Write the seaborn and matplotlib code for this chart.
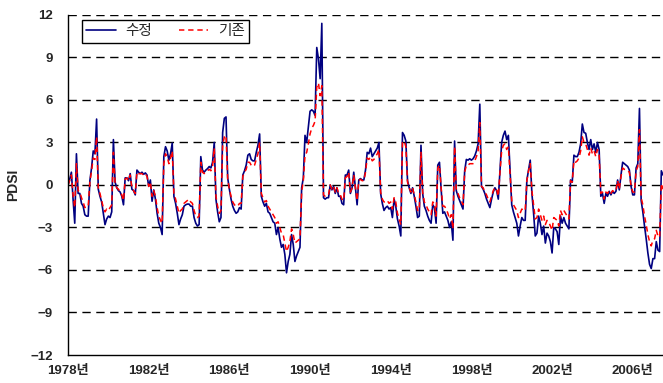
import matplotlib
matplotlib.use('Agg')
import matplotlib.pyplot as plt
import seaborn as sns
import pandas as pd

# monthly PDSI, Jan 1978 onwards
year_labels = ['1978년', '1982년', '1986년', '1990년', '1994년', '1998년', '2002년', '2006년']

revised = [
    0.0, 0.4, 0.9, -1.0, -2.7, 2.2, -0.6, -0.6, -1.3, -1.5, -2.1, -2.2,
    -2.2, 0.3, 1.2, 2.4, 2.2, 4.65, -0.3, -0.8, -1.2, -2.0, -2.8, -2.4,
    -2.2, -2.3, -1.9, 3.2, 0.2, -0.2, -0.4, -0.5, -0.8, -1.4, 0.5, 0.5,
    0.3, 0.8, -0.3, -0.4, -0.7, 1.05, 0.9, 0.8, 0.9, 0.75, 0.85, 0.7,
    -0.1, 0.35, -1.15, -0.35, -1.0, -2.0, -2.7, -3.0, -3.5, 2.0, 2.7, 2.4,
    1.75, 2.2, 2.95, -0.8, -1.3, -2.0, -2.8, -2.4, -2.1, -1.5, -1.4, -1.35,
    -1.35, -1.5, -1.5, -2.3, -2.7, -2.9, -2.8, 2.0, 1.05, 0.9, 1.05, 1.15,
    1.3, 1.2, 1.6, 3.0, -1.0, -1.9, -2.6, -2.3, 3.7, 4.7, 4.8, 0.5,
    -0.3, -1.0, -1.5, -1.8, -2.0, -1.9, -1.6, -1.7, 0.7, 1.0, 1.4, 2.1,
    2.2, 1.8, 1.7, 1.7, 2.3, 2.8, 3.6, -0.8, -1.2, -1.5, -1.3, -1.9,
    -2.0, -2.3, -2.6, -2.7, -3.5, -3.0, -3.8, -4.4, -4.2, -4.9, -6.2, -5.4,
    -4.9, -3.5, -4.2, -5.4, -5.0, -4.7, -4.4, -0.2, 0.5, 3.5, 3.0, 4.1,
    5.2, 5.3, 5.2, 4.9, 9.7, 8.9, 7.5, 11.4, -0.9, -1.0, -0.9, -0.9,
    0.0, -0.35, -0.1, -0.6, -0.2, -0.8, -0.8, -1.3, -1.4, 0.7, 0.7, 1.05,
    -0.6, -0.2, 0.9, -0.2, -1.4, 0.35, 0.45, 0.35, 0.35, 1.05, 2.3, 2.2,
    2.6, 2.0, 2.2, 2.4, 2.6, 3.0, -0.6, -1.3, -1.8, -1.6, -1.5, -1.7,
    -1.6, -2.3, -1.0, -1.5, -2.4, -2.9, -3.6, 3.7, 3.5, 3.1, 0.3, -0.2,
    -0.6, -0.2, -0.8, -1.5, -2.3, -2.2, 2.8, -0.6, -1.5, -1.8, -2.2, -2.5,
    -2.7, -1.4, -1.6, -2.7, 1.4, 1.6, -0.3, -2.0, -1.9, -2.2, -2.5, -3.0,
    -2.6, -3.9, 3.1, -0.4, -0.8, -1.1, -1.4, -1.7, 1.0, 1.8, 1.75, 1.85,
    1.75, 1.85, 2.05, 2.4, 2.9, 5.7, -0.1, -0.3, -0.6, -1.0, -1.3, -1.6,
    -1.0, -0.5, -0.2, -0.4, -1.0, 1.0, 3.0, 3.5, 3.8, 3.2, 3.5, 1.0,
    -1.4, -1.9, -2.3, -2.7, -3.6, -2.9, -2.3, -2.5, -2.5, 0.35, 1.05, 1.75,
    -0.6, -2.0, -3.6, -3.4, -2.2, -2.7, -3.5, -2.9, -4.1, -3.4, -3.6, -4.0,
    -4.8, -3.0, -3.1, -3.3, -4.2, -2.2, -2.7, -2.3, -2.7, -2.9, -3.1, 0.35,
    0.2, 2.1, 2.0, 2.0, 2.3, 2.9, 4.3, 3.7, 3.65, 3.0, 2.5, 3.2,
    2.5, 2.9, 2.3, 3.0, 2.5, -0.8, -0.6, -1.3, -0.6, -0.8, -0.45, -0.7,
    -0.45, -0.6, -0.45, 0.35, -0.35, 0.7, 1.6, 1.5, 1.4, 1.3, 1.05, -0.1,
    -0.7, -0.7, 1.2, 1.5, 5.4, -1.1, -1.9, -2.9, -3.8, -4.8, -5.6, -5.9,
    -5.2, -5.2, -4.0, -4.6, -4.7, 1.0, 0.7,
]

existing = [
    0.0, 0.3, 0.7, -0.7, -1.6, 1.5, -0.4, -0.5, -0.9, -1.2, -1.6, -1.5,
    -1.5, 0.2, 1.0, 1.9, 1.8, 3.4, -0.2, -0.6, -1.1, -1.6, -1.9, -1.7,
    -1.8, -1.6, -1.4, 2.3, 0.1, -0.2, -0.3, -0.5, -0.7, -1.1, 0.4, 0.5,
    0.3, 0.7, -0.2, -0.4, -0.6, 0.9, 0.8, 0.8, 0.8, 0.7, 0.8, 0.6,
    -0.1, 0.2, -0.8, -0.4, -0.8, -1.6, -2.2, -2.5, -2.7, 1.5, 2.2, 2.0,
    1.5, 1.9, 2.4, -0.6, -1.0, -1.5, -2.0, -1.8, -1.7, -1.3, -1.2, -1.1,
    -1.0, -1.2, -1.3, -1.8, -2.2, -2.3, -2.2, 1.6, 0.9, 0.8, 0.9, 1.0,
    1.1, 1.0, 1.3, 2.6, -0.8, -1.5, -2.0, -1.8, 2.8, 3.4, 3.5, 0.4,
    -0.3, -0.8, -1.2, -1.4, -1.5, -1.5, -1.3, -1.3, 0.6, 0.9, 1.1, 1.6,
    1.6, 1.4, 1.3, 1.4, 1.8, 2.2, 3.0, -0.6, -0.9, -1.2, -1.1, -1.5,
    -1.7, -1.9, -2.1, -2.3, -2.7, -2.6, -3.0, -3.4, -3.5, -4.1, -4.7, -4.4,
    -4.0, -3.1, -3.5, -4.1, -4.0, -3.9, -3.8, -0.5, 0.3, 2.1, 2.3, 2.9,
    3.6, 4.0, 4.2, 4.5, 6.9, 7.2, 6.3, 7.0, -0.7, -0.8, -0.8, -0.7,
    0.0, -0.3, -0.1, -0.5, -0.2, -0.6, -0.7, -1.0, -1.1, 0.5, 0.6, 0.9,
    -0.5, -0.2, 0.7, -0.2, -1.1, 0.3, 0.4, 0.3, 0.3, 0.9, 1.9, 1.8,
    2.0, 1.7, 1.8, 2.0, 2.2, 2.5, -0.5, -1.0, -1.2, -1.2, -1.1, -1.3,
    -1.2, -1.7, -0.9, -1.2, -2.0, -2.4, -2.8, 3.0, 3.1, 2.7, 0.2, -0.2,
    -0.5, -0.2, -0.7, -1.2, -1.8, -1.8, 2.3, -0.5, -1.2, -1.4, -1.7, -1.9,
    -2.1, -1.2, -1.3, -2.2, 1.2, 1.4, -0.2, -1.5, -1.5, -1.7, -2.0, -2.4,
    -2.1, -3.1, 2.7, -0.3, -0.6, -0.9, -1.1, -1.4, 0.9, 1.4, 1.4, 1.5,
    1.5, 1.5, 1.7, 2.0, 2.4, 4.4, -0.1, -0.2, -0.5, -0.7, -1.0, -1.2,
    -0.8, -0.4, -0.2, -0.3, -0.8, 0.9, 2.4, 2.8, 2.9, 2.5, 2.7, 0.8,
    -1.1, -1.4, -1.6, -1.8, -2.3, -2.0, -1.7, -1.8, -1.8, 0.3, 1.0, 1.5,
    -0.4, -1.4, -2.4, -2.3, -1.7, -2.1, -2.5, -2.2, -2.8, -2.5, -2.6, -2.9,
    -3.2, -2.3, -2.4, -2.5, -2.9, -1.8, -2.1, -1.8, -2.0, -2.2, -2.4, 0.3,
    0.2, 1.7, 1.6, 1.7, 1.9, 2.4, 3.4, 3.0, 2.9, 2.5, 2.1, 2.6,
    2.2, 2.4, 2.0, 2.5, 2.1, -0.6, -0.5, -1.0, -0.5, -0.6, -0.4, -0.6,
    -0.4, -0.5, -0.4, 0.3, -0.3, 0.6, 1.2, 1.1, 1.1, 1.0, 0.9, -0.1,
    -0.5, -0.5, 1.0, 1.3, 3.9, -0.9, -1.4, -2.2, -2.8, -3.5, -4.0, -4.3,
    -3.9, -3.8, -3.2, -3.6, -3.7, 0.1, -0.3,
]

sns.set_style('white')
plt.rcParams['font.family'] = ['Liberation Sans', 'Noto Sans CJK KR']

df = pd.DataFrame({'month': range(len(revised)), '수정': revised, '기존': existing})

fig = plt.figure(figsize=(6.63, 3.83), dpi=100)
ax = fig.add_axes([0.1026, 0.0731, 0.8974, 0.888])

# dashed horizontal grid every 3
for y in range(-9, 13, 3):
    ax.axhline(y, color='black', lw=1, ls=(0, (6, 4)), zorder=0)

sns.lineplot(data=df, x='month', y='수정', ax=ax, color='#000080', lw=1.2, label='수정')
sns.lineplot(data=df, x='month', y='기존', ax=ax, color='#ff0000', lw=1.1,
             linestyle=(0, (3.5, 2.5)), label='기존')

ax.set_xlim(0, 354)
ax.set_ylim(-12, 12)
ax.set_xticks(range(0, 48 * len(year_labels), 48))
ax.set_xticklabels(year_labels, fontweight='bold', fontsize=9.5)
yt = list(range(-12, 13, 3))
ax.set_yticks(yt)
ax.set_yticklabels([str(v).replace('-', '\u2212') for v in yt], fontweight='bold', fontsize=9.5)
ax.tick_params(axis='both', direction='in', length=4, width=1, color='black')
ax.tick_params(axis='y', pad=11)
ax.tick_params(axis='x', pad=7)

ax.set_xlabel('')
ax.set_ylabel('PDSI', fontweight='bold', fontsize=10, labelpad=7)
for s in ['top', 'right']:
    ax.spines[s].set_visible(False)
for s in ['left', 'bottom']:
    ax.spines[s].set_color('black')
    ax.spines[s].set_linewidth(1)

leg = ax.legend(loc='upper left', bbox_to_anchor=(0.0235, 0.985), ncol=2, fontsize=10.5,
                frameon=True, fancybox=False, edgecolor='black', framealpha=1,
                borderaxespad=0, handlelength=2.0, handletextpad=0.7,
                columnspacing=1.8, borderpad=0.3)
leg.get_frame().set_linewidth(1)

fig.savefig('out.png', dpi=100)
